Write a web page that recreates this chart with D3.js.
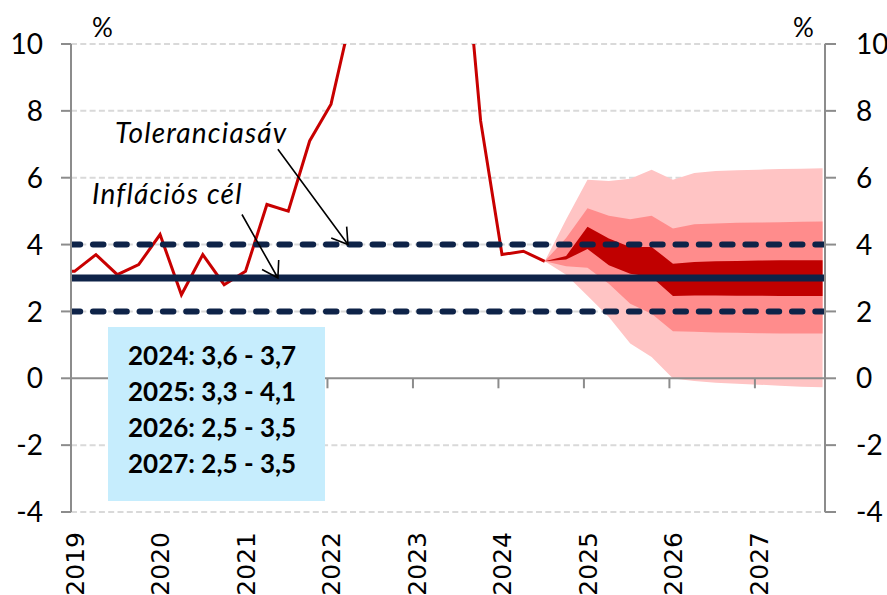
<!DOCTYPE html>
<html><head><meta charset="utf-8">
<script src="https://cdn.jsdelivr.net/npm/d3@7"></script>
<style>body{margin:0;background:#fff}svg{display:block}</style>
</head><body>
<svg id="c" width="887" height="595"></svg>
<script>
// ---------- DATA ----------
const years = [2019, 2020, 2021, 2022, 2023, 2024, 2025, 2026, 2027];
const yTicks = [-4, -2, 0, 2, 4, 6, 8, 10];

// actual CPI (quarterly, %)
const cpiQuarters = ["2018Q4",
  "2019Q1","2019Q2","2019Q3","2019Q4",
  "2020Q1","2020Q2","2020Q3","2020Q4",
  "2021Q1","2021Q2","2021Q3","2021Q4",
  "2022Q1","2022Q2","2022Q3","2022Q4",
  "2023Q1","2023Q2","2023Q3","2023Q4",
  "2024Q1","2024Q2","2024Q3"];
const cpiValues = [3.2,
  3.2, 3.7, 3.1, 3.4,
  4.3, 2.5, 3.7, 2.8,
  3.2, 5.2, 5.0, 7.1,
  8.2, 11.0, 16.5, 22.7,
  25.4, 21.9, 14.8, 7.7,
  3.7, 3.8, 3.5];

// fan chart (forecast uncertainty bands, %)
const fanQuarters = ["2024Q3","2024Q4",
  "2025Q1","2025Q2","2025Q3","2025Q4",
  "2026Q1","2026Q2","2026Q3","2026Q4",
  "2027Q1","2027Q2","2027Q3","2027Q4"];
const outerHigh = [3.5, 4.75, 5.94, 5.90, 5.97, 6.24, 5.94, 6.14, 6.20, 6.22, 6.24, 6.26, 6.27, 6.28];
const midHigh   = [3.5, 4.20, 5.09, 4.86, 4.76, 4.86, 4.48, 4.61, 4.63, 4.65, 4.66, 4.67, 4.68, 4.69];
const innerHigh = [3.5, 3.66, 4.53, 4.18, 3.93, 3.93, 3.43, 3.48, 3.50, 3.51, 3.52, 3.53, 3.53, 3.53];
const innerLow  = [3.5, 3.55, 3.87, 3.38, 3.13, 3.03, 2.46, 2.48, 2.48, 2.47, 2.47, 2.46, 2.46, 2.46];
const midLow    = [3.5, 3.35, 3.31, 2.83, 2.23, 1.93, 1.41, 1.39, 1.37, 1.36, 1.35, 1.34, 1.34, 1.34];
const outerLow  = [3.5, 3.10, 2.47, 1.83, 1.04, 0.64, -0.01, -0.08, -0.13, -0.16, -0.19, -0.22, -0.25, -0.27];

const targetValue = 3;
const toleranceBand = [2, 4];
const rangeLabels = ["2024: 3,6 - 3,7", "2025: 3,3 - 4,1", "2026: 2,5 - 3,5", "2027: 2,5 - 3,5"];
const unitLabel = "%";
const annotTolerance = "Toleranciasáv";
const annotTarget = "Inflációs cél";

// ---------- LAYOUT ----------
const L = 71, R = 825, T = 44, B = 512;
const svg = d3.select("#c");
const x = d3.scaleLinear().domain([2019, 2027.82]).range([L, R]);
const y = d3.scaleLinear().domain([-4, 10]).range([B, T]);
const qt = s => +s.slice(0, 4) + (+s.slice(5) - 1) / 4 + 1 / 24;

const navy = "#0e2348", axisGray = "#8c8c8c";

svg.append("defs").append("clipPath").attr("id", "plot")
  .append("rect").attr("x", L).attr("y", T).attr("width", R - L).attr("height", B - T);

// gridlines
svg.append("g").selectAll("line").data(yTicks.filter(v => v !== 0)).join("line")
  .attr("x1", L).attr("x2", R).attr("y1", d => y(d)).attr("y2", d => y(d))
  .attr("stroke", "#d9d9d9").attr("stroke-width", 2).attr("stroke-dasharray", "6 3.3");

// fan
const fan = fanQuarters.map((q, i) => ({t: qt(q), oh: outerHigh[i], mh: midHigh[i], ih: innerHigh[i], il: innerLow[i], ml: midLow[i], ol: outerLow[i]}));
const band = (lo, hi) => d3.area().x(d => x(d.t)).y0(d => y(d[lo])).y1(d => y(d[hi]));
const gFan = svg.append("g");
gFan.append("path").datum(fan).attr("d", band("ol", "oh")).attr("fill", "#ffc4c4");
gFan.append("path").datum(fan).attr("d", band("ml", "mh")).attr("fill", "#ff8c8c");
gFan.append("path").datum(fan).attr("d", band("il", "ih")).attr("fill", "#c00000");

// actual CPI line
const cpi = cpiQuarters.map((q, i) => ({t: qt(q), v: cpiValues[i]}));
svg.append("path").datum(cpi).attr("clip-path", "url(#plot)")
  .attr("d", d3.line().x(d => x(d.t)).y(d => y(d.v)))
  .attr("fill", "none").attr("stroke", "#c80000").attr("stroke-width", 3).attr("stroke-linejoin", "miter");

// tolerance band & target
svg.append("g").attr("clip-path", "url(#plot)").selectAll("line").data(toleranceBand).join("line")
  .attr("x1", L).attr("x2", R).attr("y1", d => y(d)).attr("y2", d => y(d))
  .attr("stroke", navy).attr("stroke-width", 6).attr("stroke-linecap", "round")
  .attr("stroke-dasharray", "10.5 12.8").attr("stroke-dashoffset", 1.3);
svg.append("line").attr("x1", L).attr("x2", R).attr("y1", y(targetValue)).attr("y2", y(targetValue))
  .attr("stroke", navy).attr("stroke-width", 7);

// axes
const gAx = svg.append("g").attr("stroke", axisGray).attr("stroke-width", 2);
gAx.append("line").attr("x1", L).attr("x2", L).attr("y1", T).attr("y2", B);
gAx.append("line").attr("x1", R).attr("x2", R).attr("y1", T).attr("y2", B);
gAx.append("line").attr("x1", L).attr("x2", R).attr("y1", y(0)).attr("y2", y(0));
gAx.selectAll(".tl").data(yTicks).join("line").attr("class", "tl")
  .attr("x1", L - 10).attr("x2", L).attr("y1", d => y(d)).attr("y2", d => y(d));
gAx.selectAll(".tr").data(yTicks).join("line").attr("class", "tr")
  .attr("x1", R).attr("x2", R + 11).attr("y1", d => y(d)).attr("y2", d => y(d));
gAx.selectAll(".tb").data(years.slice(1)).join("line").attr("class", "tb")
  .attr("x1", d => x(d)).attr("x2", d => x(d)).attr("y1", y(0)).attr("y2", y(0) + 10);

// y labels
const lab = svg.append("g").attr("font-family", "Lato, 'Open Sans', sans-serif").attr("font-size", 28).attr("fill", "#000");
lab.selectAll(".yl").data(yTicks).join("text").attr("class", "yl")
  .attr("x", 43).attr("y", d => y(d)).attr("dy", "0.36em").attr("text-anchor", "end").text(d => d);
lab.selectAll(".yr").data(yTicks).join("text").attr("class", "yr")
  .attr("x", 856).attr("y", d => y(d)).attr("dy", "0.36em").attr("text-anchor", "start").text(d => d);
svg.append("text").attr("x", 92).attr("y", 37).attr("font-family", "Lato, sans-serif").attr("font-size", 26).text(unitLabel);
svg.append("text").attr("x", 793).attr("y", 37).attr("font-family", "Lato, sans-serif").attr("font-size", 26).text(unitLabel);

// x labels
svg.append("g").selectAll("text").data(years).join("text")
  .attr("transform", d => `translate(${x(d) + 4},532) rotate(-90)`)
  .attr("dy", "0.35em").attr("text-anchor", "end")
  .attr("font-family", "'DejaVu Sans', sans-serif").attr("font-size", 25).text(d => d);

// annotations
const ann = svg.append("g").attr("font-family", "Lato, sans-serif").attr("font-style", "italic")
  .attr("font-size", 28).attr("letter-spacing", 1.2);
ann.append("text").attr("x", 115).attr("y", 143).text(annotTolerance);
ann.append("text").attr("x", 92).attr("y", 204).text(annotTarget);

function arrow(t0, v0, t1, v1) {
  const x0 = x(t0), y0 = y(v0), x1 = x(t1), y1 = y(v1);
  const a = Math.atan2(y0 - y1, x0 - x1), len = 18, sp = Math.PI / 5.6;
  const p = `M${x0},${y0}L${x1},${y1}M${x1 + len * Math.cos(a - sp)},${y1 + len * Math.sin(a - sp)}L${x1},${y1}L${x1 + len * Math.cos(a + sp)},${y1 + len * Math.sin(a + sp)}`;
  svg.append("path").attr("d", p).attr("fill", "none").attr("stroke", "#000").attr("stroke-width", 1.6);
}
arrow(2021.42, 6.85, 2022.24, 4.0);
arrow(2021.0, 4.9, 2021.42, 3.0);

// range box
const box = svg.append("g");
box.append("rect").attr("x", 108).attr("y", 327).attr("width", 217).attr("height", 174).attr("fill", "#c6edfd");
box.selectAll("text").data(rangeLabels).join("text")
  .attr("x", 128).attr("y", (d, i) => 365 + i * 36)
  .attr("font-family", "Lato, sans-serif").attr("font-weight", "bold").attr("font-size", 26).text(d => d);
</script>
</body></html>
